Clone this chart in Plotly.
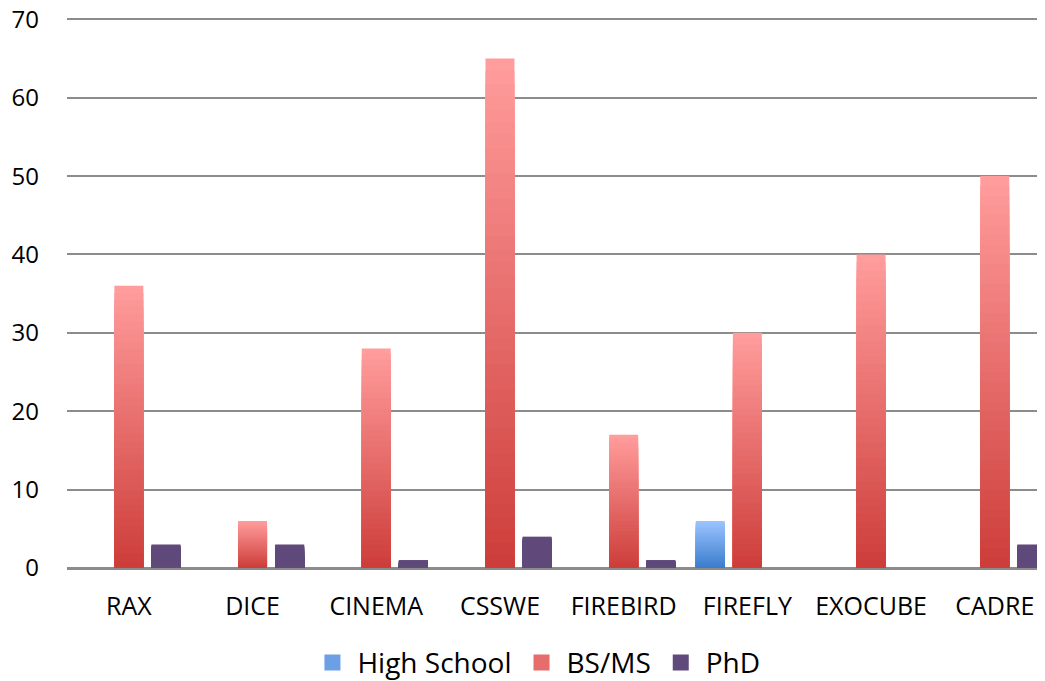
import plotly.graph_objects as go

categories = ["RAX", "DICE", "CINEMA", "CSSWE", "FIREBIRD", "FIREFLY", "EXOCUBE", "CADRE"]
high_school = [0, 0, 0, 0, 0, 6, 0, 0]
bs_ms = [36, 6, 28, 65, 17, 30, 40, 50]
phd = [3, 3, 1, 4, 1, 0, 0, 3]
y_ticks = [0, 10, 20, 30, 40, 50, 60, 70]

series = [
    ("High School", high_school, (155, 195, 255), (60, 125, 205)),
    ("BS/MS", bs_ms, (255, 156, 156), (205, 62, 58)),
    ("PhD", phd, (96, 74, 123), (96, 74, 123)),
]

N = 40
FONT = "Open Sans"
fig = go.Figure()


def mix(c1, c2, t):
    return "rgb(%d,%d,%d)" % tuple(round(a + (b - a) * t) for a, b in zip(c1, c2))


for name, vals, top, bottom in series:
    for k in range(N):
        frac = (N - k) / N
        t = k / (N - 1)
        fig.add_trace(go.Bar(
            x=categories,
            y=[v * frac for v in vals],
            name=name,
            offsetgroup=name,
            legendgroup=name,
            showlegend=False,
            marker=dict(color=mix(top, bottom, t), line=dict(width=0)),
            hoverinfo="skip" if k else None,
        ))

# legend entries
for name, vals, top, bottom in series:
    fig.add_trace(go.Scatter(
        x=[None], y=[None],
        mode="markers",
        name=name,
        legendgroup=name,
        marker=dict(symbol="square", size=19, color=mix(top, bottom, 0.5)),
    ))

fig.update_layout(
    width=1037,
    height=673,
    margin=dict(l=59, r=0, t=9, b=113, autoexpand=False),
    paper_bgcolor="white",
    plot_bgcolor="white",
    barmode="group",
    bargap=0.10,
    bargroupgap=0.22,
    font=dict(family=FONT, color="black"),
    showlegend=True,
    legend=dict(
        orientation="h",
        x=0.48,
        xanchor="center",
        y=-0.172,
        yanchor="middle",
        font=dict(family=FONT, size=28, color="black"),
        traceorder="normal",
        itemsizing="trace",
        itemwidth=40,
    ),
)

fig.update_xaxes(
    type="category",
    range=[-0.5, 7.406],
    showgrid=False,
    showline=True,
    linecolor="#8c8c8c",
    linewidth=2,
    ticks="",
    automargin=False,
    ticklabelstandoff=15,
    tickfont=dict(family=FONT, size=25, color="black"),
)

fig.update_yaxes(
    range=[0, 70.3],
    tickvals=y_ticks,
    showgrid=True,
    gridcolor="#8c8c8c",
    gridwidth=1.5,
    zeroline=True,
    zerolinecolor="#8c8c8c",
    zerolinewidth=2,
    showline=False,
    ticks="",
    automargin=False,
    ticklabeloverflow="allow",
    ticklabelstandoff=27,
    tickfont=dict(family=FONT, size=24, color="black"),
)

fig.write_html("out.html")
